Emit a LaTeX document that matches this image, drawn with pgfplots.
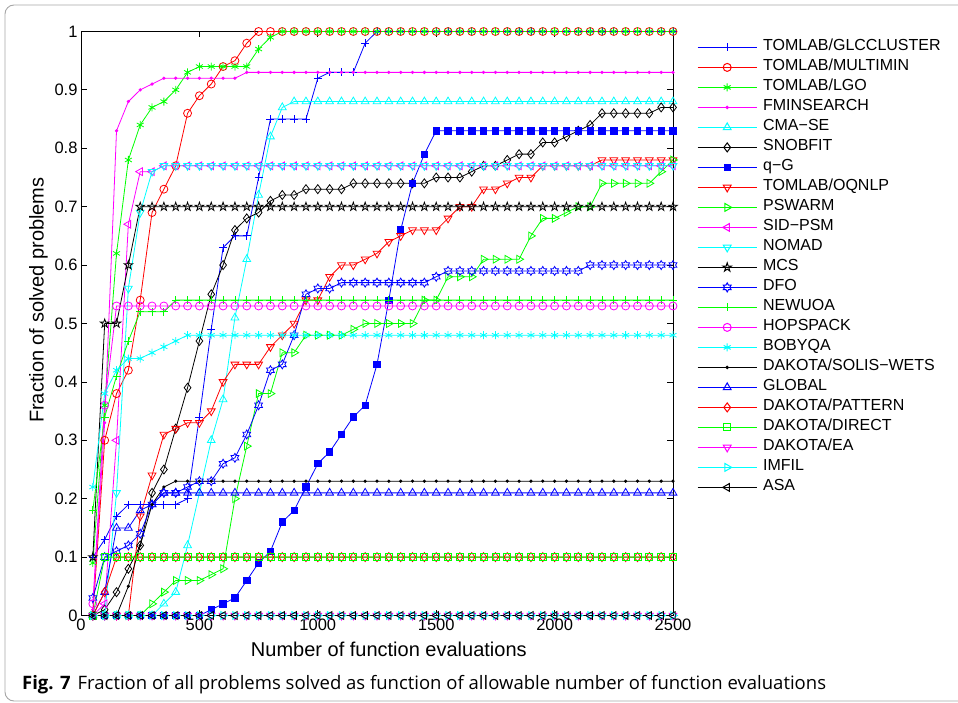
\documentclass[border=0pt]{standalone}
\usepackage{fontspec}
\setmainfont{Liberation Sans}
\newfontfamily\capfont{Open Sans}
\usepackage{pgfplots}
\usepackage{pgfplotstable}
\pgfplotsset{compat=1.18}
\usetikzlibrary{plotmarks}
\definecolor{mblue}{rgb}{0,0,1}
\definecolor{mred}{rgb}{1,0,0}
\definecolor{mgreen}{rgb}{0,1,0}
\definecolor{mcyan}{rgb}{0,1,1}
\definecolor{mmag}{rgb}{1,0,1}
\definecolor{mblack}{rgb}{0,0,0}
\pgfplotsset{mc/.style={#1, legend image post style={draw=#1}}}

\pgfdeclareplotmark{pentagram}{%
  \pgfpathmoveto{\pgfqpointpolar{90}{\pgfplotmarksize}}%
  \pgfpathlineto{\pgfqpointpolar{126}{0.382\pgfplotmarksize}}%
  \pgfpathlineto{\pgfqpointpolar{162}{\pgfplotmarksize}}%
  \pgfpathlineto{\pgfqpointpolar{198}{0.382\pgfplotmarksize}}%
  \pgfpathlineto{\pgfqpointpolar{234}{\pgfplotmarksize}}%
  \pgfpathlineto{\pgfqpointpolar{270}{0.382\pgfplotmarksize}}%
  \pgfpathlineto{\pgfqpointpolar{306}{\pgfplotmarksize}}%
  \pgfpathlineto{\pgfqpointpolar{342}{0.382\pgfplotmarksize}}%
  \pgfpathlineto{\pgfqpointpolar{18}{\pgfplotmarksize}}%
  \pgfpathlineto{\pgfqpointpolar{54}{0.382\pgfplotmarksize}}%
  \pgfpathclose\pgfusepathqstroke}
\pgfdeclareplotmark{hexagram}{%
  \pgfpathmoveto{\pgfqpointpolar{90}{\pgfplotmarksize}}%
  \pgfpathlineto{\pgfqpointpolar{120}{0.577\pgfplotmarksize}}%
  \pgfpathlineto{\pgfqpointpolar{150}{\pgfplotmarksize}}%
  \pgfpathlineto{\pgfqpointpolar{180}{0.577\pgfplotmarksize}}%
  \pgfpathlineto{\pgfqpointpolar{210}{\pgfplotmarksize}}%
  \pgfpathlineto{\pgfqpointpolar{240}{0.577\pgfplotmarksize}}%
  \pgfpathlineto{\pgfqpointpolar{270}{\pgfplotmarksize}}%
  \pgfpathlineto{\pgfqpointpolar{300}{0.577\pgfplotmarksize}}%
  \pgfpathlineto{\pgfqpointpolar{330}{\pgfplotmarksize}}%
  \pgfpathlineto{\pgfqpointpolar{0}{0.577\pgfplotmarksize}}%
  \pgfpathlineto{\pgfqpointpolar{30}{\pgfplotmarksize}}%
  \pgfpathlineto{\pgfqpointpolar{60}{0.577\pgfplotmarksize}}%
  \pgfpathclose\pgfusepathqstroke}

% x, GLCCLUSTER(A) MULTIMIN(B) LGO(C) FMINSEARCH(D) CMA-SE(E) SNOBFIT(F) q-G(G) OQNLP(H) PSWARM(I)
% SID-PSM(J) NOMAD(K) MCS(L) DFO(M) NEWUOA(N) HOPSPACK(O) BOBYQA(P) SOLIS-WETS(Q) GLOBAL(R)
% PATTERN(S) DIRECT(T) EA(U) IMFIL(V) ASA(W)
\pgfplotstableread{
x A B C D E F G H I J K L M N O P Q R S T U V W
50 0.10 0.00 0.09 0.01 0.00 0.00 0.00 0.00 0.00 0.00 0.00 0.10 0.03 0.18 0.02 0.22 0.00 0.00 0.00 0.00 0 0 0
100 0.13 0.30 0.36 0.33 0.00 0.01 0.00 0.00 0.00 0.02 0.00 0.50 0.10 0.34 0.36 0.38 0.00 0.04 0.04 0.10 0 0 0
150 0.17 0.38 0.62 0.83 0.00 0.04 0.00 0.00 0.00 0.30 0.21 0.50 0.11 0.41 0.53 0.42 0.00 0.15 0.10 0.10 0 0 0
200 0.19 0.42 0.78 0.88 0.00 0.08 0.00 0.00 0.00 0.67 0.56 0.60 0.12 0.47 0.53 0.44 0.05 0.15 0.10 0.10 0 0 0
250 0.19 0.54 0.84 0.90 0.00 0.12 0.00 0.17 0.00 0.76 0.69 0.70 0.14 0.52 0.53 0.44 0.12 0.18 0.10 0.10 0 0 0
300 0.19 0.69 0.87 0.91 0.00 0.21 0.00 0.24 0.02 0.76 0.76 0.70 0.19 0.52 0.53 0.45 0.19 0.19 0.10 0.10 0 0 0
350 0.19 0.73 0.88 0.92 0.02 0.25 0.00 0.31 0.04 0.77 0.77 0.70 0.21 0.52 0.53 0.46 0.22 0.21 0.10 0.10 0 0 0
400 0.19 0.77 0.90 0.92 0.04 0.32 0.00 0.32 0.06 0.77 0.77 0.70 0.21 0.54 0.53 0.47 0.23 0.21 0.10 0.10 0 0 0
450 0.20 0.86 0.93 0.92 0.12 0.39 0.00 0.33 0.06 0.77 0.77 0.70 0.22 0.54 0.53 0.48 0.23 0.21 0.10 0.10 0 0 0
500 0.34 0.89 0.94 0.92 0.21 0.47 0.00 0.33 0.06 0.77 0.77 0.70 0.23 0.54 0.53 0.48 0.23 0.21 0.10 0.10 0 0 0
550 0.49 0.91 0.94 0.92 0.30 0.55 0.01 0.35 0.07 0.77 0.77 0.70 0.23 0.54 0.53 0.48 0.23 0.21 0.10 0.10 0 0 0
600 0.63 0.94 0.94 0.92 0.37 0.60 0.02 0.40 0.08 0.77 0.77 0.70 0.26 0.54 0.53 0.48 0.23 0.21 0.10 0.10 0 0 0
650 0.65 0.95 0.94 0.92 0.51 0.66 0.03 0.43 0.20 0.77 0.77 0.70 0.27 0.54 0.53 0.48 0.23 0.21 0.10 0.10 0 0 0
700 0.65 0.98 0.94 0.93 0.61 0.68 0.06 0.43 0.29 0.77 0.77 0.70 0.31 0.54 0.53 0.48 0.23 0.21 0.10 0.10 0 0 0
750 0.75 1.00 0.97 0.93 0.72 0.69 0.09 0.43 0.38 0.77 0.77 0.70 0.36 0.54 0.53 0.48 0.23 0.21 0.10 0.10 0 0 0
800 0.85 1.00 0.99 0.93 0.82 0.71 0.11 0.46 0.38 0.77 0.77 0.70 0.42 0.54 0.53 0.48 0.23 0.21 0.10 0.10 0 0 0
850 0.85 1.00 1.00 0.93 0.87 0.72 0.16 0.48 0.45 0.77 0.77 0.70 0.43 0.54 0.53 0.48 0.23 0.21 0.10 0.10 0 0 0
900 0.85 1.00 1.00 0.93 0.88 0.72 0.18 0.50 0.45 0.77 0.77 0.70 0.48 0.54 0.53 0.48 0.23 0.21 0.10 0.10 0 0 0
950 0.85 1.00 1.00 0.93 0.88 0.73 0.22 0.54 0.48 0.77 0.77 0.70 0.55 0.54 0.53 0.48 0.23 0.21 0.10 0.10 0 0 0
1000 0.92 1.00 1.00 0.93 0.88 0.73 0.26 0.54 0.48 0.77 0.77 0.70 0.56 0.54 0.53 0.48 0.23 0.21 0.10 0.10 0 0 0
1050 0.93 1.00 1.00 0.93 0.88 0.73 0.28 0.58 0.48 0.77 0.77 0.70 0.56 0.54 0.53 0.48 0.23 0.21 0.10 0.10 0 0 0
1100 0.93 1.00 1.00 0.93 0.88 0.73 0.31 0.60 0.48 0.77 0.77 0.70 0.57 0.54 0.53 0.48 0.23 0.21 0.10 0.10 0 0 0
1150 0.93 1.00 1.00 0.93 0.88 0.74 0.34 0.60 0.49 0.77 0.77 0.70 0.57 0.54 0.53 0.48 0.23 0.21 0.10 0.10 0 0 0
1200 0.98 1.00 1.00 0.93 0.88 0.74 0.36 0.61 0.50 0.77 0.77 0.70 0.57 0.54 0.53 0.48 0.23 0.21 0.10 0.10 0 0 0
1250 1.00 1.00 1.00 0.93 0.88 0.74 0.43 0.62 0.50 0.77 0.77 0.70 0.57 0.54 0.53 0.48 0.23 0.21 0.10 0.10 0 0 0
1300 1.00 1.00 1.00 0.93 0.88 0.74 0.54 0.64 0.50 0.77 0.77 0.70 0.57 0.54 0.53 0.48 0.23 0.21 0.10 0.10 0 0 0
1350 1.00 1.00 1.00 0.93 0.88 0.74 0.66 0.65 0.50 0.77 0.77 0.70 0.57 0.54 0.53 0.48 0.23 0.21 0.10 0.10 0 0 0
1400 1.00 1.00 1.00 0.93 0.88 0.74 0.74 0.66 0.50 0.77 0.77 0.70 0.57 0.54 0.53 0.48 0.23 0.21 0.10 0.10 0 0 0
1450 1.00 1.00 1.00 0.93 0.88 0.74 0.79 0.66 0.54 0.77 0.77 0.70 0.57 0.54 0.53 0.48 0.23 0.21 0.10 0.10 0 0 0
1500 1.00 1.00 1.00 0.93 0.88 0.75 0.83 0.66 0.54 0.77 0.77 0.70 0.58 0.54 0.53 0.48 0.23 0.21 0.10 0.10 0 0 0
1550 1.00 1.00 1.00 0.93 0.88 0.75 0.83 0.68 0.58 0.77 0.77 0.70 0.59 0.54 0.53 0.48 0.23 0.21 0.10 0.10 0 0 0
1600 1.00 1.00 1.00 0.93 0.88 0.75 0.83 0.70 0.58 0.77 0.77 0.70 0.59 0.54 0.53 0.48 0.23 0.21 0.10 0.10 0 0 0
1650 1.00 1.00 1.00 0.93 0.88 0.76 0.83 0.70 0.58 0.77 0.77 0.70 0.59 0.54 0.53 0.48 0.23 0.21 0.10 0.10 0 0 0
1700 1.00 1.00 1.00 0.93 0.88 0.77 0.83 0.73 0.61 0.77 0.77 0.70 0.59 0.54 0.53 0.48 0.23 0.21 0.10 0.10 0 0 0
1750 1.00 1.00 1.00 0.93 0.88 0.77 0.83 0.73 0.61 0.77 0.77 0.70 0.59 0.54 0.53 0.48 0.23 0.21 0.10 0.10 0 0 0
1800 1.00 1.00 1.00 0.93 0.88 0.78 0.83 0.74 0.61 0.77 0.77 0.70 0.59 0.54 0.53 0.48 0.23 0.21 0.10 0.10 0 0 0
1850 1.00 1.00 1.00 0.93 0.88 0.79 0.83 0.75 0.61 0.77 0.77 0.70 0.59 0.54 0.53 0.48 0.23 0.21 0.10 0.10 0 0 0
1900 1.00 1.00 1.00 0.93 0.88 0.79 0.83 0.75 0.65 0.77 0.77 0.70 0.59 0.54 0.53 0.48 0.23 0.21 0.10 0.10 0 0 0
1950 1.00 1.00 1.00 0.93 0.88 0.81 0.83 0.77 0.68 0.77 0.77 0.70 0.59 0.54 0.53 0.48 0.23 0.21 0.10 0.10 0 0 0
2000 1.00 1.00 1.00 0.93 0.88 0.81 0.83 0.77 0.68 0.77 0.77 0.70 0.59 0.54 0.53 0.48 0.23 0.21 0.10 0.10 0 0 0
2050 1.00 1.00 1.00 0.93 0.88 0.82 0.83 0.77 0.69 0.77 0.77 0.70 0.59 0.54 0.53 0.48 0.23 0.21 0.10 0.10 0 0 0
2100 1.00 1.00 1.00 0.93 0.88 0.83 0.83 0.77 0.70 0.77 0.77 0.70 0.59 0.54 0.53 0.48 0.23 0.21 0.10 0.10 0 0 0
2150 1.00 1.00 1.00 0.93 0.88 0.84 0.83 0.77 0.70 0.77 0.77 0.70 0.60 0.54 0.53 0.48 0.23 0.21 0.10 0.10 0 0 0
2200 1.00 1.00 1.00 0.93 0.88 0.86 0.83 0.78 0.74 0.77 0.77 0.70 0.60 0.54 0.53 0.48 0.23 0.21 0.10 0.10 0 0 0
2250 1.00 1.00 1.00 0.93 0.88 0.86 0.83 0.78 0.74 0.77 0.77 0.70 0.60 0.54 0.53 0.48 0.23 0.21 0.10 0.10 0 0 0
2300 1.00 1.00 1.00 0.93 0.88 0.86 0.83 0.78 0.74 0.77 0.77 0.70 0.60 0.54 0.53 0.48 0.23 0.21 0.10 0.10 0 0 0
2350 1.00 1.00 1.00 0.93 0.88 0.86 0.83 0.78 0.74 0.77 0.77 0.70 0.60 0.54 0.53 0.48 0.23 0.21 0.10 0.10 0 0 0
2400 1.00 1.00 1.00 0.93 0.88 0.86 0.83 0.78 0.74 0.77 0.77 0.70 0.60 0.54 0.53 0.48 0.23 0.21 0.10 0.10 0 0 0
2450 1.00 1.00 1.00 0.93 0.88 0.87 0.83 0.78 0.76 0.77 0.77 0.70 0.60 0.54 0.53 0.48 0.23 0.21 0.10 0.10 0 0 0
2500 1.00 1.00 1.00 0.93 0.88 0.87 0.83 0.78 0.78 0.77 0.77 0.70 0.60 0.54 0.53 0.48 0.23 0.21 0.10 0.10 0 0 0
}\data

\begin{document}
\begin{tikzpicture}[x=1pt,y=1pt]
\useasboundingbox (0,0) rectangle (958,702);
\draw[black!35, line width=0.9pt, rounded corners=9pt] (5,1) rectangle (980,697);
\begin{axis}[
  at={(81pt,86.5pt)}, anchor=south west,
  scale only axis, width=592pt, height=584pt,
  xmin=0, xmax=2500, ymin=0, ymax=1,
  xtick={0,500,1000,1500,2000,2500},
  ytick={0,0.1,0.2,0.3,0.4,0.5,0.6,0.7,0.8,0.9,1},
  tick align=inside, major tick length=6pt,
  scaled ticks=false,
  /pgf/number format/1000 sep={},
  /pgf/number format/assume math mode=true,
  tick label style={font=\fontsize{16.5}{18}\selectfont},
  xlabel={Number of function evaluations},
  ylabel={Fraction of solved problems},
  label style={font=\fontsize{20}{22}\selectfont},
  xlabel style={at={(ticklabel cs:0.52)}, yshift=-4pt},
  ylabel style={at={(ticklabel cs:0.54)}},
  clip=false,
  axis line style={line width=0.8pt},
  every tick/.style={black, line width=0.8pt},
  every axis plot/.append style={line width=0.8pt},
  mark size=4pt,
  legend cell align=left,
  legend style={at={(1,1)}, anchor=north west, xshift=24pt, yshift=-9.7pt,
    draw=none, fill=none, inner sep=0pt, row sep=8pt,
    font=\fontsize{16}{18}\selectfont,
    nodes={inner sep=0pt, text height=9.5pt, text depth=2.5pt}},
  legend image code/.code={%
    \draw[mark repeat=2, mark phase=2, #1, line width=1pt] plot coordinates {(0pt,0pt) (29.5pt,0pt) (59pt,0pt)};
    \path (65pt,0pt);},
]
\addplot[mc=mblue, mark=+] table[y=A]{\data}; \addlegendentry{TOMLAB/GLCCLUSTER}
\addplot[mc=mred, mark=o] table[y=B]{\data}; \addlegendentry{TOMLAB/MULTIMIN}
\addplot[mc=mgreen, mark=asterisk] table[y=C]{\data}; \addlegendentry{TOMLAB/LGO}
\addplot[mc=mmag, mark=*, mark size=1.2pt] table[y=D]{\data}; \addlegendentry{FMINSEARCH}
\addplot[mc=mcyan, mark=triangle, mark size=4.5pt] table[y=E]{\data}; \addlegendentry{CMA−SE}
\addplot[mc=mblack, mark=diamond, mark size=4.5pt] table[y=F]{\data}; \addlegendentry{SNOBFIT}
\addplot[mc=mblue, mark=square*, mark size=3.2pt] table[y=G]{\data}; \addlegendentry{q−G}
\addplot[mc=mred, mark=triangle, mark size=4.5pt, mark options={rotate=180}] table[y=H]{\data}; \addlegendentry{TOMLAB/OQNLP}
\addplot[mc=mgreen, mark=triangle, mark size=4.5pt, mark options={rotate=-90}] table[y=I]{\data}; \addlegendentry{PSWARM}
\addplot[mc=mmag, mark=triangle, mark size=4.5pt, mark options={rotate=90}] table[y=J]{\data}; \addlegendentry{SID−PSM}
\addplot[mc=mcyan, mark=triangle, mark size=4.5pt, mark options={rotate=180}] table[y=K]{\data}; \addlegendentry{NOMAD}
\addplot[mc=mblack, mark=pentagram, mark size=4.5pt] table[y=L]{\data}; \addlegendentry{MCS}
\addplot[mc=mblue, mark=hexagram, mark size=4.5pt] table[y=M]{\data}; \addlegendentry{DFO}
\addplot[mc=mgreen, mark=+] table[y=N]{\data}; \addlegendentry{NEWUOA}
\addplot[mc=mmag, mark=o] table[y=O]{\data}; \addlegendentry{HOPSPACK}
\addplot[mc=mcyan, mark=asterisk] table[y=P]{\data}; \addlegendentry{BOBYQA}
\addplot[mc=mblack, mark=*, mark size=1.2pt] table[y=Q]{\data}; \addlegendentry{DAKOTA/SOLIS−WETS}
\addplot[mc=mblue, mark=triangle, mark size=4.5pt] table[y=R]{\data}; \addlegendentry{GLOBAL}
\addplot[mc=mred, mark=diamond, mark size=4.5pt] table[y=S]{\data}; \addlegendentry{DAKOTA/PATTERN}
\addplot[mc=mgreen, mark=square, mark size=3.5pt] table[y=T]{\data}; \addlegendentry{DAKOTA/DIRECT}
\addplot[mc=mmag, mark=triangle, mark size=4.5pt, mark options={rotate=180}] table[y=U]{\data}; \addlegendentry{DAKOTA/EA}
\addplot[mc=mcyan, mark=triangle, mark size=4.5pt, mark options={rotate=-90}] table[y=V]{\data}; \addlegendentry{IMFIL}
\addplot[mc=mblack, mark=triangle, mark size=4.5pt, mark options={rotate=90}] table[y=W]{\data}; \addlegendentry{ASA}
\end{axis}
\node[anchor=base west, inner sep=0pt] at (22,12.5)
  {\capfont\fontsize{18.5}{21}\selectfont\textbf{Fig. 7}\hspace{7pt}Fraction of all problems solved as function of allowable number of function evaluations};
\end{tikzpicture}
\end{document}
